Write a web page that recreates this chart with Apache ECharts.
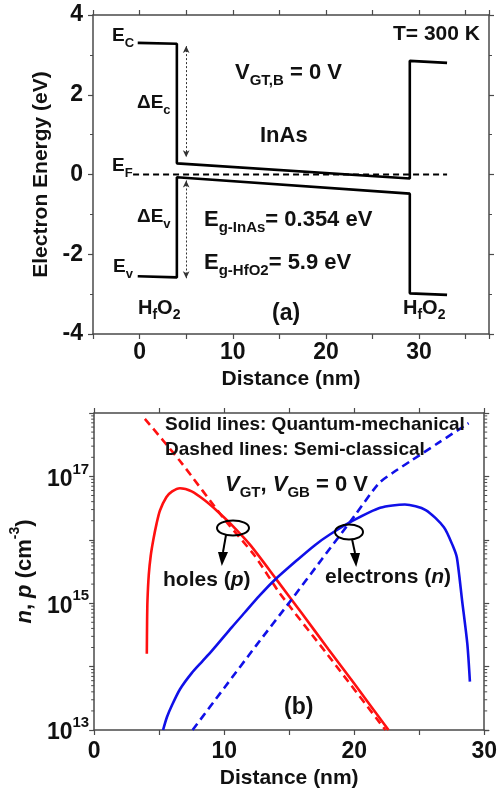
<!DOCTYPE html>
<html><head><meta charset="utf-8">
<script src="https://cdn.jsdelivr.net/npm/echarts@6/dist/echarts.min.js"></script>
<style>html,body{margin:0;padding:0;background:#fff}#c{width:500px;height:793px}</style>
</head><body><div id="c"></div>
<script>
const FONT = '"Liberation Sans", Arial, sans-serif';

// ---------- Panel (a): band diagram ----------
const xLabelsA = [0, 10, 20, 30];
const yLabelsA = [-4, -2, 0, 2, 4];
const ecX = [-0.2, 4, 4, 29, 29, 33];
const ecE = [3.3, 3.28, 0.28, -0.1, 2.85, 2.8];
const evX = [-0.2, 4, 4, 29, 29, 33];
const evE = [-2.55, -2.58, -0.07, -0.48, -2.98, -3.02];
const efX = [-0.7, 33];
const efE = [0, 0];
const offsetArrowX = 5;
const dEcRange = [3.22, 0.43];
const dEvRange = [-0.15, -2.6];

// ---------- Panel (b): carrier concentrations ----------
const xLabelsB = [0, 10, 20, 30];
const yLabelExpB = [13, 15, 17];
const holesQMx = [4.05, 4.07, 4.1, 4.2, 4.35, 4.55, 4.8, 5.06, 5.55, 6.0, 6.6, 7.5, 8.5, 9.5, 10.5, 12, 14, 16, 18, 20, 22.64];
const holesQMv = [1.6e14, 5.0e14, 1.1e15, 2.8e15, 5.6e15, 1.0e16, 1.8e16, 2.9e16, 4.7e16, 5.8e16, 6.5e16, 5.8e16, 4.2e16, 2.8e16, 1.78e16, 8.3e15, 2.4e15, 6.8e14, 1.9e14, 5.4e13, 1.0e13];
const holesSCx = [3.9, 6.57, 10.1, 12.35, 14.26, 18, 22.4];
const holesSCv = [8.1e17, 1.78e17, 2.0e16, 5.6e15, 1.45e15, 1.5e14, 1.0e13];
const elecQMx = [5.3, 5.6, 6.0, 6.6, 7.5, 8.3, 9.08, 10.6, 11.6, 12.7, 13.86, 15.62, 17, 18.1, 19.9, 22, 23.9, 25.5, 26.9, 27.6, 27.9, 28.3, 28.7, 28.9];
const elecQMv = [1.0e13, 1.6e13, 2.5e13, 4.4e13, 7.9e13, 1.2e14, 1.8e14, 4.2e14, 7.2e14, 1.3e15, 2.3e15, 4.8e15, 8.3e15, 1.2e16, 2.0e16, 3.2e16, 3.6e16, 2.95e16, 1.58e16, 7.9e15, 5.2e15, 1.1e15, 2.3e14, 5.8e13];
const elecSCx = [7.57, 10, 12.5, 15, 17.5, 20, 21.9, 23, 24.4, 26.5, 28.5, 28.8];
const elecSCv = [1.0e13, 4.6e13, 2.2e14, 1.02e15, 4.9e15, 2.34e16, 7.8e16, 1.15e17, 1.78e17, 3.4e17, 6.3e17, 6.9e17];
const minorDecades = [13, 14, 15, 16, 17];
const minorMultipliers = [2, 3, 4, 5, 6, 7, 8, 9];

const zip = (xs, ys) => xs.map((x, i) => [x, ys[i]]);
const AX = '#4a4a4a';

function valAxis(extra) {
  return Object.assign({
    axisLine: { show: true, onZero: false, lineStyle: { color: AX, width: 1.5 } },
    axisTick: { show: true, inside: false, length: 5, lineStyle: { color: AX, width: 1.2 } },
    splitLine: { show: false },
    axisLabel: { show: false },
    nameTextStyle: { fontFamily: FONT, fontWeight: 'bold', fontSize: 21, color: '#111' }
  }, extra);
}
const lblStyle = { fontFamily: FONT, fontWeight: 'bold', fontSize: 23, color: '#111' };

function rs(F, f) {
  const base = { fontFamily: FONT, fontWeight: 'bold', fill: '#111', color: '#111' };
  return {
    m: Object.assign({}, base, { fontSize: F, lineHeight: F + 4, verticalAlign: 'top' }),
    i: Object.assign({}, base, { fontSize: F, lineHeight: F + 4, verticalAlign: 'top', fontStyle: 'italic' }),
    s: Object.assign({}, base, { fontSize: f, lineHeight: f, verticalAlign: 'bottom' })
  };
}
function txt(x, y, text, F, f) {
  return { type: 'text', x: x, y: y, z: 100,
    style: { text: text, rich: rs(F, f || Math.round(F * 0.68)), fill: '#111',
      font: 'bold ' + F + 'px ' + FONT, verticalAlign: 'middle', align: 'left' } };
}
function arrowDown(x1, y1, x2, y2, tipY, halfW) {
  return [
    { type: 'line', z: 100, shape: { x1: x1, y1: y1, x2: x2, y2: y2 }, style: { stroke: '#000', lineWidth: 2 } },
    { type: 'polygon', z: 100, shape: { points: [[x2 - halfW, y2], [x2 + halfW, y2], [x2 + (x2 - x1) * 0.4, tipY]] }, style: { fill: '#000' } }
  ];
}

const minorData = [];
minorDecades.forEach(d => minorMultipliers.forEach(k => minorData.push([0, k * Math.pow(10, d)])));

const curve = (x, v, color, dashed) => ({
  type: 'line', xAxisIndex: 2, yAxisIndex: 2, data: zip(x, v), symbol: 'none',
  smooth: 0.25,
  lineStyle: { color: color, width: 2.6, type: dashed ? [8, 5] : 'solid' }
});

const chart = echarts.init(document.getElementById('c'), null, { renderer: 'canvas' });
chart.setOption({
  animation: false,
  backgroundColor: '#fff',
  grid: [
    { left: 93, top: 15, width: 396, height: 319 },
    { left: 93, top: 413, width: 396, height: 317 }
  ],
  xAxis: [
    valAxis({ gridIndex: 0, type: 'value', position: 'bottom', min: -5, max: 37.5, interval: 5,
      name: 'Distance (nm)', nameLocation: 'middle', nameGap: 35,
      axisLabel: Object.assign({ show: true, margin: 7, formatter: v => xLabelsA.includes(v) ? String(v) : '' }, lblStyle) }),
    valAxis({ gridIndex: 0, type: 'value', position: 'top', min: -5, max: 37.5, interval: 5 }),
    valAxis({ gridIndex: 1, type: 'value', position: 'bottom', min: 0, max: 30, interval: 5,
      name: 'Distance (nm)', nameLocation: 'middle', nameGap: 38,
      axisLabel: Object.assign({ show: true, margin: 10, formatter: v => xLabelsB.includes(v) ? String(v) : '' }, lblStyle) }),
    valAxis({ gridIndex: 1, type: 'value', position: 'top', min: 0, max: 30, interval: 5 })
  ],
  yAxis: [
    valAxis({ gridIndex: 0, type: 'value', position: 'left', min: -4, max: 4, interval: 2,
      minorTick: { show: true, splitNumber: 2, length: 3, lineStyle: { color: AX } },
      name: 'Electron Energy (eV)', nameLocation: 'middle', nameGap: 38, nameRotate: 90,
      axisLabel: Object.assign({ show: true, margin: 10, formatter: v => yLabelsA.includes(v) ? String(v) : '' }, lblStyle) }),
    valAxis({ gridIndex: 0, type: 'value', position: 'right', min: -4, max: 4, interval: 2,
      minorTick: { show: true, splitNumber: 2, length: 3, lineStyle: { color: AX } } }),
    valAxis({ gridIndex: 1, type: 'log', logBase: 10, position: 'left', min: 1e13, max: 1e18,
      name: '{i|n}{m|, }{i|p}{m| (cm}{s|-3}{m|)}', nameLocation: 'middle', nameGap: 52, nameRotate: 90,
      nameTextStyle: { fontFamily: FONT, fontWeight: 'bold', fontSize: 22, color: '#111',
        rich: {
          m: { fontFamily: FONT, fontWeight: 'bold', fontSize: 22, color: '#111', lineHeight: 28, verticalAlign: 'bottom' },
          i: { fontFamily: FONT, fontWeight: 'bold', fontStyle: 'italic', fontSize: 22, color: '#111', lineHeight: 28, verticalAlign: 'bottom' },
          s: { fontFamily: FONT, fontWeight: 'bold', fontSize: 14, color: '#111', lineHeight: 14, verticalAlign: 'top' }
        } },
      axisLabel: { show: true, margin: 5,
        formatter: v => { const e = Math.round(Math.log10(v)); return yLabelExpB.includes(e) ? '{b|10}{s|' + e + '}' : ''; },
        rich: {
          b: { fontFamily: FONT, fontWeight: 'bold', fontSize: 23, color: '#111', lineHeight: 29, verticalAlign: 'bottom' },
          s: { fontFamily: FONT, fontWeight: 'bold', fontSize: 15, color: '#111', lineHeight: 17, verticalAlign: 'top' }
        } } }),
    valAxis({ gridIndex: 1, type: 'log', logBase: 10, position: 'right', min: 1e13, max: 1e18 })
  ],
  series: [
    { type: 'line', xAxisIndex: 0, yAxisIndex: 0, data: zip(ecX, ecE), symbol: 'none',
      lineStyle: { color: '#000', width: 2.6 },
      markLine: { silent: true, symbol: ['arrow', 'arrow'], symbolSize: [5, 7], label: { show: false },
        lineStyle: { color: '#333', width: 1, type: [2, 2] },
        data: [
          [{ coord: [offsetArrowX, dEcRange[0]] }, { coord: [offsetArrowX, dEcRange[1]] }],
          [{ coord: [offsetArrowX, dEvRange[0]] }, { coord: [offsetArrowX, dEvRange[1]] }]
        ] } },
    { type: 'line', xAxisIndex: 0, yAxisIndex: 0, data: zip(evX, evE), symbol: 'none',
      lineStyle: { color: '#000', width: 2.6 } },
    { type: 'line', xAxisIndex: 0, yAxisIndex: 0, data: zip(efX, efE), symbol: 'none',
      lineStyle: { color: '#000', width: 2.2, type: [6, 4] } },

    curve(holesQMx, holesQMv, '#ff1010', false),
    curve(holesSCx, holesSCv, '#ff1010', true),
    curve(elecQMx, elecQMv, '#1010e8', false),
    curve(elecSCx, elecSCv, '#1010e8', true),
    { type: 'custom', xAxisIndex: 2, yAxisIndex: 2, data: minorData, clip: false, silent: true, z: 5,
      renderItem: function (params, api) {
        const v = api.value(1);
        const pL = api.coord([0, v]);
        const pR = api.coord([30, v]);
        return { type: 'group', children: [
          { type: 'line', shape: { x1: pL[0] - 3, y1: pL[1], x2: pL[0], y2: pL[1] }, style: { stroke: AX, lineWidth: 1 } },
          { type: 'line', shape: { x1: pR[0], y1: pR[1], x2: pR[0] + 3, y2: pR[1] }, style: { stroke: AX, lineWidth: 1 } }
        ] };
      } }
  ],
  graphic: [
    txt(112, 38, '{m|E}{s|C}', 19, 13),
    txt(137, 105, '{m|\u0394E}{s|c}', 19, 13),
    txt(112, 168, '{m|E}{s|F}', 19, 13),
    txt(137, 219, '{m|\u0394E}{s|v}', 19, 13),
    txt(113, 269, '{m|E}{s|v}', 19, 13),
    txt(138, 310, '{m|H}{s|f}{m|O}{s|2}', 20, 14),
    txt(403, 310, '{m|H}{s|f}{m|O}{s|2}', 20, 14),
    txt(272, 316, '{m|(a)}', 23),
    txt(393, 36, '{m|T= 300 K}', 21),
    txt(235, 75, '{m|V}{s|GT,B}{m| = 0 V}', 22, 15),
    txt(260, 138, '{m|InAs}', 22),
    txt(204, 222, '{m|E}{s|g-InAs}{m|= 0.354 eV}', 22, 15),
    txt(204, 265, '{m|E}{s|g-HfO2}{m|= 5.9 eV}', 22, 15),

    txt(165, 427, '{m|Solid lines: Quantum-mechanical}', 19),
    txt(165, 452, '{m|Dashed lines: Semi-classical}', 19),
    txt(225, 487, '{i|V}{s|GT}{m|, }{i|V}{s|GB}{m| = 0 V}', 22, 15),
    txt(163, 582, '{m|holes (}{i|p}{m|)}', 21),
    txt(325, 579, '{m|electrons (}{i|n}{m|)}', 21),
    txt(284, 710, '{m|(b)}', 23),

    { type: 'ellipse', z: 100, shape: { cx: 233, cy: 528, rx: 16, ry: 7.5 }, style: { fill: 'none', stroke: '#000', lineWidth: 2 } },
    { type: 'ellipse', z: 100, shape: { cx: 349, cy: 532, rx: 14, ry: 7.5 }, style: { fill: 'none', stroke: '#000', lineWidth: 2 } }
  ].concat(arrowDown(226, 535, 223, 552, 566, 5)).concat(arrowDown(352, 539, 355, 553, 567, 5))
});
</script></body></html>
